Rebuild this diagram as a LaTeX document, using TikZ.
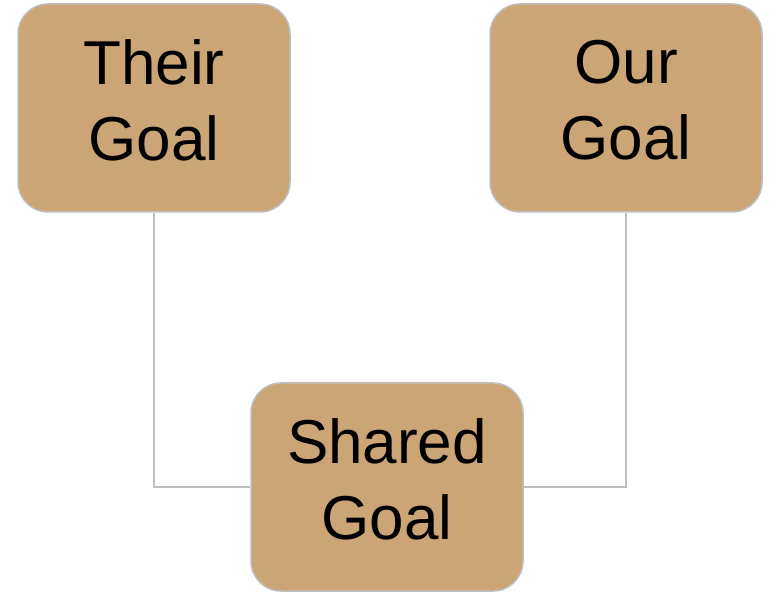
\documentclass[tikz,border=0pt]{standalone}
\usepackage{fontspec}
\setmainfont{Liberation Sans}
\usepackage{xcolor}
\definecolor{goalTan}{RGB}{203,165,118}
\definecolor{lineGray}{RGB}{190,190,190}

\begin{document}
\begin{tikzpicture}[x=1pt,y=-1pt,
        goalbox/.style={draw=lineGray,line width=1.5pt,fill=goalTan,rounded corners=30pt,
            minimum width=272pt,minimum height=208pt,align=center,text depth=16pt,
            font=\fontsize{62}{76}\selectfont},
        link/.style={draw=lineGray,line width=1.5pt}]
        \useasboundingbox (0,0) rectangle (769,593);
        % boxes
        \node[goalbox] (their) at (154,108) {Their\\Goal};
        \node[goalbox] (our) at (626,108) {Our\\Goal};
        \node[goalbox] (shared) at (387,487) {Shared\\Goal};
        % connectors
        \draw[link] (their.south) |- (shared.west);
        \draw[link] (our.south) |- (shared.east);
    \end{tikzpicture}
\end{document}
